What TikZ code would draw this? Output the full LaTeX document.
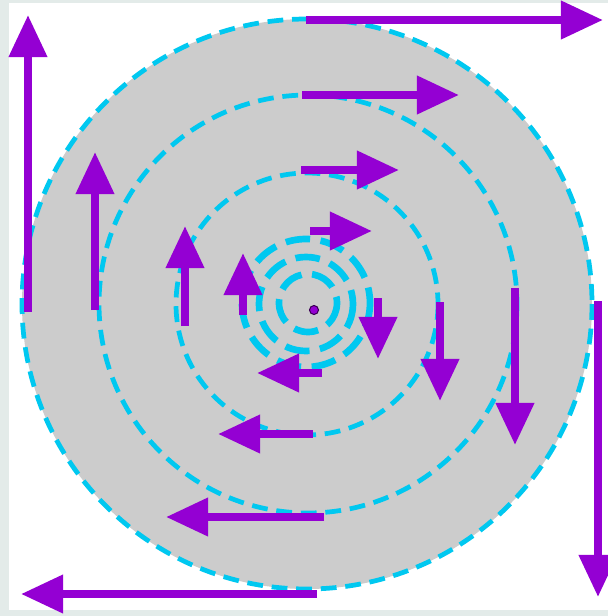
\documentclass[tikz,border=0pt]{standalone}
\usetikzlibrary{arrows.meta}
\definecolor{flowpurple}{RGB}{148,0,211}
\definecolor{ringcyan}{RGB}{0,200,240}
\definecolor{discgray}{RGB}{204,204,204}
\definecolor{edgegray}{RGB}{227,235,233}
\begin{document}
\begin{tikzpicture}[x=0.02cm,y=-0.02cm,
    flow/.style={draw=flowpurple,line width=4.5pt,-{Triangle[length=24pt,width=21pt]}},
    ring/.style={draw=ringcyan,line width=2.7pt,dash pattern=on 9pt off 5pt},
    innerring/.style={draw=ringcyan,line width=3.8pt,dash pattern=on 14pt off 6pt}]
            \fill[edgegray] (0,0) rectangle (608,616);
            \fill[white] (9,3) rectangle (608,610);
            \useasboundingbox (0,0) rectangle (608,616);
            % disc and dashed rings
            \fill[discgray] (307,304) circle (285);
            \foreach \cx/\cy/\r in {307/304/285, 308/304/209, 307/304/131}
            \draw[ring] (\cx,\cy) circle (\r);
            \foreach \cx/\cy/\r in {306/303/64, 306/304/47, 308/303/29}
            \draw[innerring] (\cx,\cy) circle (\r);
            % flow arrows, outside to inside
            \foreach \xa/\ya/\xb/\yb in {306/20/603/20, 598/301/598/597, 317/594/21/594, 28/312/28/15,
                                         302/95/459/95, 515/288/515/445, 324/517/166/517, 95/310/95/152,
                                         301/170/399/170, 440/302/440/401, 313/434/218/434, 185/326/185/226,
                                         310/231/372/231, 378/298/378/359, 322/373/257/373, 243/315/243/253}
            \draw[flow] (\xa,\ya) -- (\xb,\yb);
            \filldraw[fill=flowpurple,draw=black!60!flowpurple,line width=0.6pt] (314,310) circle (4.5);
        \end{tikzpicture}
\end{document}
